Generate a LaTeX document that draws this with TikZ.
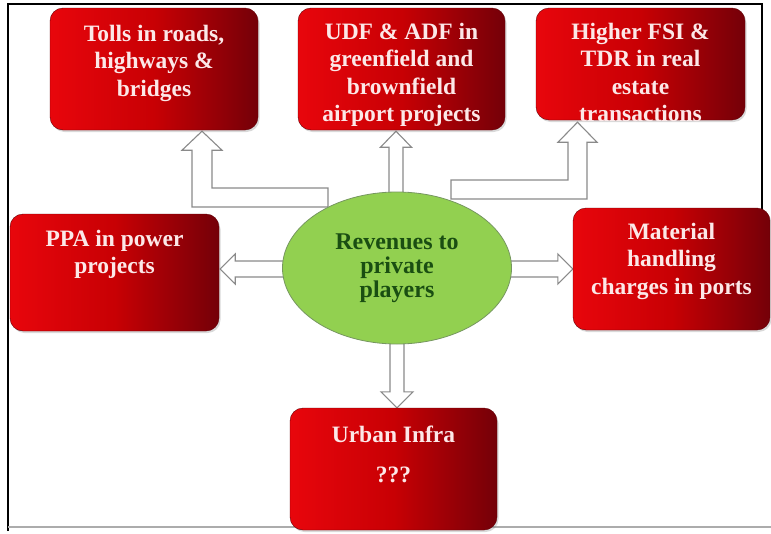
\documentclass[tikz,border=0pt]{standalone}
\usepackage{fontspec}
\setmainfont{Liberation Serif}
\usetikzlibrary{shapes.geometric,shadows,calc,backgrounds}

\definecolor{cardlight}{RGB}{232,6,12}
\definecolor{cardmid}{RGB}{200,0,4}
\definecolor{carddark}{RGB}{116,0,8}
\definecolor{cardink}{RGB}{252,232,232}
\definecolor{hubfill}{RGB}{146,208,80}
\definecolor{hubedge}{RGB}{118,150,96}
\definecolor{hubink}{RGB}{26,78,18}
\definecolor{arrowedge}{RGB}{138,138,138}

% text block of a card: width, height, first baseline below the top, lines
\newcommand{\cardtext}[4]{\parbox[c][#2][t]{#1}{\centering\fontsize{23.5}{27.5}\selectfont\rule{0pt}{#3}#4}}

% hollow straight block arrow: base, tip, shaft half width, head half width, head length
\newcommand{\hollowarrow}[5]{%
  \coordinate (#1h) at ($(#2)!#5!(#1)$);
  \draw[blockarrow] ($(#1)!#3!90:(#2)$) -- ($(#1h)!#3!-90:(#1)$) -- ($(#1h)!#4!-90:(#1)$)
    -- (#2) -- ($(#1h)!#4!90:(#1)$) -- ($(#1h)!#3!90:(#1)$) -- ($(#1)!#3!-90:(#2)$) -- cycle;}

\tikzset{
  card/.style={rectangle, rounded corners=13pt, inner sep=0pt,
    left color=cardlight, right color=carddark, middle color=cardmid,
    draw=carddark!85!black, line width=0.4pt,
    drop shadow={shadow xshift=1.5pt, shadow yshift=-2pt, opacity=0.3},
    text=cardink, font=\bfseries},
  hub/.style={ellipse, fill=hubfill, draw=hubedge, line width=0.8pt, inner sep=0pt,
    minimum width=229pt, minimum height=152pt, align=center, text=hubink,
    font=\bfseries\fontsize{24}{24}\selectfont},
  blockarrow/.style={draw=arrowedge, fill=white, line width=1.1pt, line join=miter},
  frameline/.style={line width=2.5pt, black},
}

\begin{document}
\begin{tikzpicture}[x=1pt, y=-1pt]
\useasboundingbox (0,0) rectangle (771,533);

% cards
\node[card] (tolls) at (154,69)
  {\cardtext{208pt}{122pt}{33pt}{Tolls in roads,\\highways \&\\bridges}};
\node[card] (udf) at (401.5,69)
  {\cardtext{207pt}{122pt}{31pt}{UDF \& ADF in\\greenfield and\\brownfield\\airport projects}};
\node[card] (fsi) at (640.5,64)
  {\cardtext{209pt}{112pt}{31pt}{Higher FSI \&\\TDR in real\\estate\\transactions}};
\node[card] (ppa) at (114.5,272.5)
  {\cardtext{209pt}{117pt}{32pt}{PPA in power\\projects}};
\node[card] (material) at (671.5,269)
  {\cardtext{197pt}{122pt}{31pt}{Material\\handling\\charges in ports}};
\node[card] (urban) at (393.5,469)
  {\cardtext{207pt}{122pt}{34pt}{Urban Infra\\[13pt]???}};

% central hub
\node[hub] (hub) at (397,268) {Revenues to\\private\\players};

\begin{scope}[on background layer]
  % outer frame
  \draw[frameline] (8,531) -- (8,4) -- (762,4) -- (762,210);
  \draw[gray!65, line width=1.2pt] (8,527) -- (771,527);

  % straight arrows
  \coordinate (up-a) at ($(hub.north)+(-1,10)$);
  \coordinate (up-b) at ($(hub.north |- udf.south)+(-1,1)$);
  \hollowarrow{up-a}{up-b}{7pt}{15.5pt}{16pt}
  \coordinate (dn-a) at ($(hub.south)+(0,-10)$);
  \coordinate (dn-b) at (hub.south |- urban.north);
  \hollowarrow{dn-a}{dn-b}{7pt}{16pt}{16pt}
  \coordinate (lf-a) at ($(hub.west)+(8,1)$);
  \coordinate (lf-b) at ($(ppa.east |- hub.west)+(1,1)$);
  \hollowarrow{lf-a}{lf-b}{8pt}{15pt}{15pt}
  \coordinate (rt-a) at ($(hub.east)+(-8,1)$);
  \coordinate (rt-b) at ($(material.west |- hub.east)+(0,1)$);
  \hollowarrow{rt-a}{rt-b}{8pt}{15pt}{15pt}

  % elbow arrow to the tolls card
  \coordinate (lt) at ($(tolls.south)+(48,1)$);
  \coordinate (lb) at ($(hub.center)+(-69,-70.5)$);
  \draw[blockarrow] ($(lb)+(0,-9.5)$) -- ($(lt |- lb)+(10,-9.5)$) -- ($(lt)+(10,19)$)
    -- ($(lt)+(20,19)$) -- (lt) -- ($(lt)+(-20,19)$) -- ($(lt)+(-10,19)$)
    -- ($(lt |- lb)+(-10,9.5)$) -- ($(lb)+(0,9.5)$) -- cycle;

  % elbow arrow to the real estate card
  \coordinate (rt) at ($(fsi.south)+(-63,2)$);
  \coordinate (rb) at ($(hub.center)+(54,-78.5)$);
  \draw[blockarrow] ($(rb)+(0,-9.5)$) -- ($(rt |- rb)+(-9.5,-9.5)$) -- ($(rt)+(-9.5,20)$)
    -- ($(rt)+(-19.5,20)$) -- (rt) -- ($(rt)+(19.5,20)$) -- ($(rt)+(9.5,20)$)
    -- ($(rt |- rb)+(9.5,9.5)$) -- ($(rb)+(0,9.5)$) -- cycle;
\end{scope}
\end{tikzpicture}
\end{document}
